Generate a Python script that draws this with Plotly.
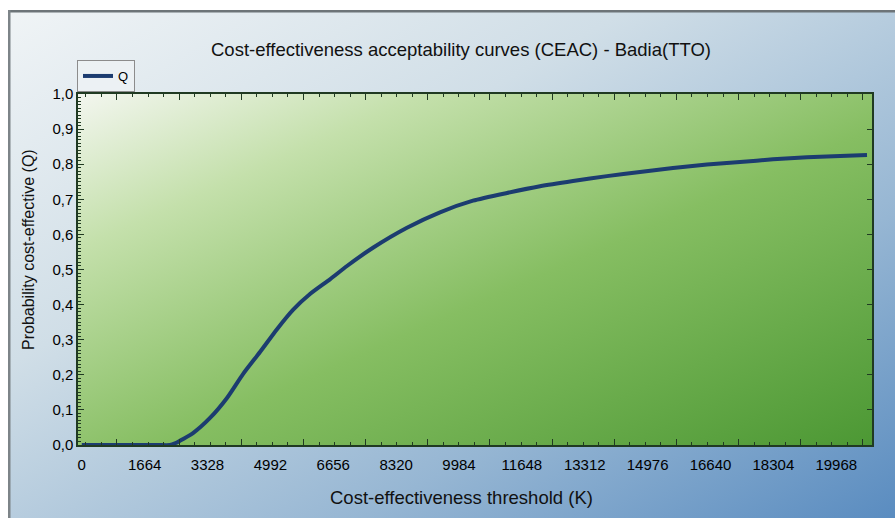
import base64
import plotly.graph_objects as go

# ---- data ----
threshold_k = [0, 1000, 2000, 2335, 2467, 2944, 3394, 3843, 4267, 4717, 5167, 5590,
               6040, 6569, 7019, 7707, 8607, 9481, 10354, 11254, 12127, 13001,
               13900, 14774, 15647, 16547, 17421, 18294, 19194, 20253, 20782]
prob_q = [0.0, 0.0, 0.0, 0.0, 0.005, 0.034, 0.077, 0.134, 0.202, 0.265, 0.330, 0.385,
          0.430, 0.472, 0.510, 0.562, 0.619, 0.663, 0.696, 0.718, 0.737, 0.752,
          0.766, 0.778, 0.789, 0.799, 0.806, 0.814, 0.820, 0.824, 0.826]

x_tick_vals = [0, 1664, 3328, 4992, 6656, 8320, 9984, 11648, 13312, 14976, 16640, 18304, 19968]
x_tick_text = [str(v) for v in x_tick_vals]
y_tick_vals = [i / 10 for i in range(11)]
y_tick_text = ["0,0", "0,1", "0,2", "0,3", "0,4", "0,5", "0,6", "0,7", "0,8", "0,9", "1,0"]

title_text = "Cost-effectiveness acceptability curves (CEAC) - Badia(TTO)"
x_title = "Cost-effectiveness threshold (K)"
y_title = "Probability cost-effective (Q)"
series_name = "Q"

# ---- styling ----
FONT = "Liberation Sans, Arial, Helvetica, sans-serif"
W, H = 895, 518
ML, MR, MT, MB = 78, 23, 94, 73
PW, PH = W - ML - MR, H - MT - MB
AXC = "#203a22"
X_RANGE = [-100, 20914]


def svg_uri(svg):
    return "data:image/svg+xml;base64," + base64.b64encode(svg.encode()).decode()


def px_x(px):
    return (px - ML) / PW


def px_y(py):
    return (MT + PH - py) / PH


panel_x0, panel_y0 = 8, 10
panel_w, panel_h = W - panel_x0, H - panel_y0
panel_svg = f"""<svg xmlns='http://www.w3.org/2000/svg' width='{panel_w}' height='{panel_h}' viewBox='0 0 {panel_w} {panel_h}' preserveAspectRatio='none'>
<defs><linearGradient id='g' x1='0' y1='0' x2='1' y2='1'>
<stop offset='0' stop-color='#f0f4f6'/>
<stop offset='0.35' stop-color='#d0dee7'/>
<stop offset='0.7' stop-color='#96b6d3'/>
<stop offset='1' stop-color='#5a8cc0'/>
</linearGradient></defs>
<rect x='0' y='0' width='{panel_w}' height='{panel_h}' fill='url(#g)'/>
<rect x='0' y='0' width='{panel_w}' height='2.5' fill='#6d7478'/>
<rect x='0' y='0' width='2.5' height='{panel_h}' fill='#7d8488'/>
</svg>"""

plot_svg = f"""<svg xmlns='http://www.w3.org/2000/svg' width='{PW}' height='{PH}' viewBox='0 0 {PW} {PH}' preserveAspectRatio='none'>
<defs><linearGradient id='p' x1='0' y1='0' x2='1' y2='1'>
<stop offset='0' stop-color='#f3f6ef'/>
<stop offset='0.22' stop-color='#c4e0ab'/>
<stop offset='0.55' stop-color='#86be62'/>
<stop offset='1' stop-color='#4c9834'/>
</linearGradient></defs>
<rect x='0' y='0' width='{PW}' height='{PH}' fill='url(#p)'/>
</svg>"""

fig = go.Figure()
fig.add_trace(go.Scatter(
    x=threshold_k, y=prob_q, mode="lines", name=series_name,
    line=dict(color="#1c3c70", width=4, shape="spline", smoothing=0.6),
))
# invisible helper traces so that overlay axes are drawn
fig.add_trace(go.Scatter(x=[X_RANGE[0]], y=[0], xaxis="x2", yaxis="y", mode="markers",
                         marker=dict(opacity=0), showlegend=False, hoverinfo="skip"))
fig.add_trace(go.Scatter(x=[X_RANGE[0]], y=[0], xaxis="x", yaxis="y2", mode="markers",
                         marker=dict(opacity=0), showlegend=False, hoverinfo="skip"))

fig.update_layout(
    width=W, height=H,
    margin=dict(l=ML, r=MR, t=MT, b=MB, autoexpand=False),
    paper_bgcolor="white",
    plot_bgcolor="rgba(0,0,0,0)",
    font=dict(family=FONT, size=15, color="black"),
    title=dict(text=title_text, x=px_x(461), xref="paper", xanchor="center",
               y=1 - 50 / H, yref="container", yanchor="middle",
               font=dict(size=18.5, color="#111111")),
    showlegend=True,
    legend=dict(x=px_x(77), y=px_y(60), xanchor="left", yanchor="top",
                bgcolor="rgba(236,241,243,0.95)", bordercolor="#8c8c8c", borderwidth=1,
                font=dict(size=13), itemwidth=30, tracegroupgap=0),
    xaxis=dict(
        range=X_RANGE, tickmode="array", tickvals=x_tick_vals, ticktext=x_tick_text,
        ticks="", showgrid=False, zeroline=False, showline=True, linecolor=AXC,
        linewidth=1.5, mirror=True, ticklabelstandoff=5,
        automargin=False,
    ),
    xaxis2=dict(
        overlaying="x", anchor="y", side="bottom", range=X_RANGE, matches="x",
        tickmode="linear", tick0=932, dtick=1645, ticks="inside", ticklen=6,
        tickwidth=1.3, tickcolor=AXC, showticklabels=False, showgrid=False,
        zeroline=False, showline=False, mirror="ticks",
        minor=dict(ticks="inside", ticklen=3, tickwidth=1, tickcolor=AXC,
                   tick0=932, dtick=411.25, showgrid=False),
        automargin=False,
    ),
    yaxis=dict(
        range=[0, 1], tickmode="array", tickvals=y_tick_vals, ticktext=y_tick_text,
        ticks="inside", ticklen=6, tickwidth=1.3, tickcolor=AXC,
        showgrid=False, zeroline=False, showline=True, linecolor=AXC, linewidth=1.5,
        mirror=True,
        minor=dict(ticks="inside", ticklen=3, tickwidth=1, tickcolor=AXC,
                   tickmode="linear", tick0=0, dtick=0.01, showgrid=False),
        automargin=False,
    ),
    yaxis2=dict(
        overlaying="y", side="right", anchor="x", range=[0, 1], matches="y",
        tickmode="array", tickvals=y_tick_vals, ticks="inside", ticklen=5,
        tickwidth=1, tickcolor=AXC, showticklabels=False, showgrid=False,
        zeroline=False, showline=False, automargin=False,
    ),
    annotations=[
        dict(text=x_title, xref="paper", yref="paper", x=px_x(461.5), y=px_y(497),
             xanchor="center", yanchor="middle", showarrow=False,
             font=dict(size=18.5, color="#111111")),
        dict(text=y_title, xref="paper", yref="paper", x=px_x(28), y=px_y(250),
             xanchor="center", yanchor="middle", showarrow=False, textangle=-90,
             font=dict(size=16, color="#111111")),
    ],
    images=[
        dict(source=svg_uri(panel_svg), xref="paper", yref="paper",
             x=px_x(panel_x0), y=px_y(panel_y0), sizex=panel_w / PW, sizey=panel_h / PH,
             xanchor="left", yanchor="top", sizing="stretch", layer="below"),
        dict(source=svg_uri(plot_svg), xref="paper", yref="paper",
             x=0, y=1, sizex=1, sizey=1, xanchor="left", yanchor="top",
             sizing="stretch", layer="below"),
    ],
)

# remove the default 8px page margin so the 895x518 figure fills the window
fig.write_html(
    "out.html",
    config={"displayModeBar": False},
    post_script="document.body.style.margin='0';document.body.style.overflow='hidden';",
)
